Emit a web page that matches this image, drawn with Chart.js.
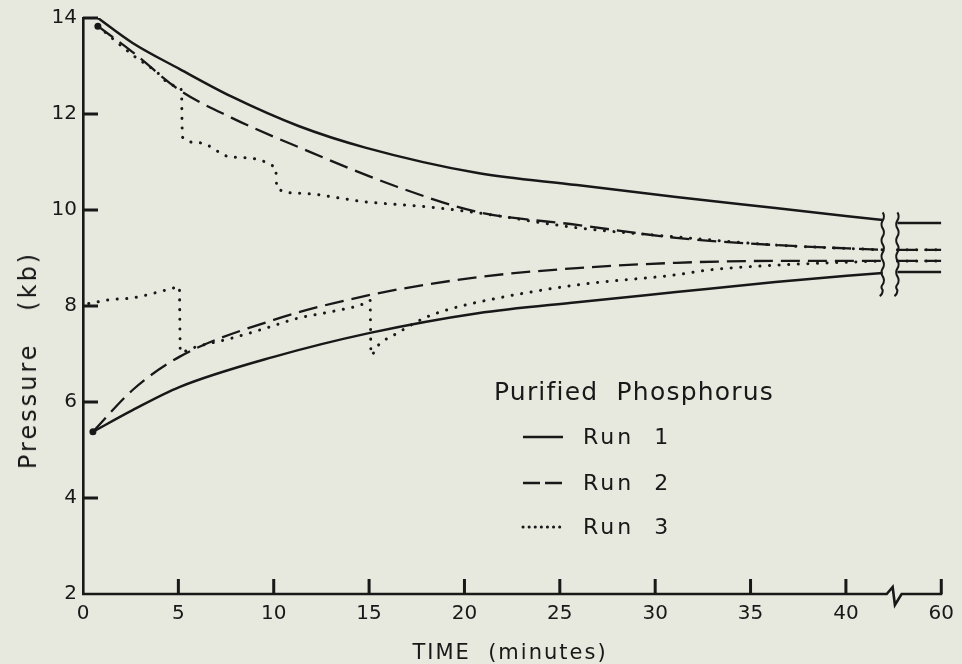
<!DOCTYPE html>
<html>
<head>
<meta charset="utf-8">
<script src="https://cdn.jsdelivr.net/npm/chart.js@4.4.0/dist/chart.umd.min.js"></script>
<style>
    html, body { margin: 0; padding: 0; background: #e7e8de; }
    #wrap { position: relative; width: 962px; height: 664px; overflow: hidden; font-family: "DejaVu Sans", sans-serif; color: #181818; }
    #wrap canvas { position: absolute; left: 0; top: 0; }
    #ytitle { position: absolute; left: 28px; top: 360px; transform: translate(-50%, -50%) rotate(-90deg); white-space: pre; font-size: 24px; letter-spacing: 3px; line-height: 28px; }
    #xtitle { position: absolute; left: 510px; top: 652px; transform: translate(-50%, -50%); white-space: pre; font-size: 21px; letter-spacing: 2px; line-height: 26px; }
    #legendTitle { position: absolute; left: 494px; top: 376px; font-size: 25px; letter-spacing: 1.2px; line-height: 32px; white-space: pre; }
    .legend-row { position: absolute; left: 520px; height: 28px; }
    .legend-row svg { position: absolute; left: 0; top: 0; }
    .legend-row span { position: absolute; left: 63px; top: 0; font-size: 22px; letter-spacing: 3px; line-height: 28px; white-space: pre; }
</style>
</head>
<body>
<div id="wrap">
    <canvas id="chart" width="962" height="664"></canvas>
    <div id="ytitle">Pressure   (kb)</div>
    <div id="xtitle">TIME  (minutes)</div>
    <div id="legendTitle">Purified  Phosphorus</div>
    <div id="legend"></div>
</div>
<script>
const ink = '#181818';

// tick values / labels (45 on the scale is drawn as "60" after the axis break)
const xTickValues = [0, 5, 10, 15, 20, 25, 30, 35, 40, 45];
const xTickLabels = ['0', '5', '10', '15', '20', '25', '30', '35', '40', '60'];
const yTickValues = [2, 4, 6, 8, 10, 12, 14];

const runNames = ['Run  1', 'Run  2', 'Run  3'];

// Run 1 (solid) - minutes / kb, null = gap at the axis break
const run1UpTime = [0.78, 2.6, 5.05, 7.8, 11.3, 14.8, 20.7, 25.9, 31.1, 36.3, 41.93, 42.3, 42.7, 45];
const run1UpP    = [14.0, 13.48, 12.94, 12.36, 11.75, 11.3, 10.77, 10.52, 10.27, 10.04, 9.79, null, 9.73, 9.73];
const run1LoTime = [0.52, 2.6, 5.05, 10, 15.05, 20.7, 25.9, 31.1, 36.3, 41.93, 42.3, 42.7, 45];
const run1LoP    = [5.38, 5.83, 6.31, 6.94, 7.44, 7.85, 8.08, 8.29, 8.5, 8.69, null, 8.71, 8.71];

// Run 2 (dashed)
const run2UpTime = [0.78, 2.6, 5.05, 7.8, 11.3, 16.5, 20.7, 25.9, 31.1, 36.3, 41.93, 42.3, 42.7, 45];
const run2UpP    = [13.83, 13.29, 12.5, 11.92, 11.31, 10.48, 9.96, 9.69, 9.42, 9.27, 9.17, null, 9.17, 9.17];
const run2LoTime = [0.52, 2.6, 5.05, 10, 15.05, 20.7, 25.9, 31.1, 36.3, 41.93, 42.3, 42.7, 45];
const run2LoP    = [5.38, 6.25, 6.94, 7.71, 8.23, 8.6, 8.79, 8.9, 8.94, 8.94, null, 8.94, 8.94];

// Run 3 (dotted) - has the sudden pressure steps
const run3UpTime = [0.78, 2.6, 3.85, 4.69, 5.16, 5.21, 6.1, 7.8, 10.1, 10.16, 11.3, 14.8, 18.2, 20.7, 25.9, 31.1, 36.3, 41.93, 42.3, 42.7, 45];
const run3UpP    = [13.83, 13.23, 12.88, 12.6, 12.5, 11.52, 11.4, 11.1, 10.88, 10.46, 10.35, 10.17, 10.06, 9.94, 9.63, 9.44, 9.27, 9.17, null, 9.17, 9.17];
const run3LoTime = [0.3, 1.4, 2.6, 4.53, 5.05, 5.1, 5.94, 7.8, 9.6, 11.3, 13.0, 14.8, 15.05, 15.1, 15.5, 16.5, 17.9, 19.1, 20.7, 25.9, 31.1, 32.8, 36.3, 41.93, 42.3, 42.7, 45];
const run3LoP    = [8.05, 8.13, 8.17, 8.35, 8.4, 7.04, 7.15, 7.33, 7.54, 7.75, 7.88, 8.06, 8.12, 6.98, 7.19, 7.44, 7.75, 7.92, 8.08, 8.44, 8.65, 8.75, 8.85, 8.94, null, 8.94, 8.94];

const styles = [
    { dash: [], width: 2.5, legendDash: '' },
    { dash: [19, 8], width: 2.3, legendDash: '17 5' },
    { dash: [0.1, 9.5], width: 3, legendDash: '0.1 6' }
];

function toPoints(times, values) {
    return times.map((t, i) => ({ x: t, y: values[i] }));
}

function makeDataset(run, times, values, startDot) {
    const st = styles[run];
    return {
        label: runNames[run],
        data: toPoints(times, values),
        borderColor: ink,
        backgroundColor: ink,
        borderWidth: st.width,
        borderDash: st.dash,
        borderCapStyle: run === 2 ? 'round' : 'butt',
        cubicInterpolationMode: 'monotone',
        spanGaps: false,
        fill: false,
        pointRadius: (c) => (startDot && c.dataIndex === 0 ? 3.5 : 0),
        pointBorderWidth: 0
    };
}

const axisDecor = {
    id: 'axisDecor',
    afterDraw(chart) {
        const ctx = chart.ctx;
        const area = chart.chartArea;
        const x = chart.scales.x;
        const y = chart.scales.y;
        const base = area.bottom;
        ctx.save();
        ctx.strokeStyle = ink;
        ctx.lineWidth = 2.6;
        ctx.lineJoin = 'miter';

        // x axis line with break zigzag
        ctx.beginPath();
        ctx.moveTo(area.left - 1, base);
        ctx.lineTo(x.getPixelForValue(42.14), base);
        ctx.lineTo(x.getPixelForValue(42.45), base - 7);
        ctx.lineTo(x.getPixelForValue(42.57), base + 11);
        ctx.lineTo(x.getPixelForValue(42.92), base);
        ctx.lineTo(area.right + 1, base);
        ctx.stroke();

        // inward ticks
        ctx.lineWidth = 3;
        ctx.beginPath();
        xTickValues.forEach(v => {
            if (v === 0) return;
            const px = x.getPixelForValue(v);
            ctx.moveTo(px, base);
            ctx.lineTo(px, base - 15);
        });
        yTickValues.forEach(v => {
            if (v === 2) return;
            const py = y.getPixelForValue(v);
            ctx.moveTo(area.left, py);
            ctx.lineTo(area.left + 15, py);
        });
        ctx.stroke();

        // wavy break marks across the curves
        ctx.lineWidth = 2;
        [41.93, 42.7].forEach(t => {
            const px = x.getPixelForValue(t);
            const top = y.getPixelForValue(9.95);
            const bot = y.getPixelForValue(8.33);
            ctx.beginPath();
            ctx.moveTo(px, top);
            let yy = top;
            let side = 1;
            while (yy < bot) {
                const next = Math.min(yy + 8, bot);
                ctx.quadraticCurveTo(px + 2.5 * side, (yy + next) / 2, px, next);
                side = -side;
                yy = next;
            }
            ctx.quadraticCurveTo(px, bot + 4, px - 3, bot + 6);
            ctx.stroke();
        });
        ctx.restore();
    }
};

Chart.defaults.font.family = "'DejaVu Sans', sans-serif";
Chart.defaults.color = ink;

new Chart(document.getElementById('chart'), {
    type: 'line',
    data: {
        datasets: [
            makeDataset(0, run1UpTime, run1UpP, false),
            makeDataset(0, run1LoTime, run1LoP, false),
            makeDataset(1, run2UpTime, run2UpP, true),
            makeDataset(1, run2LoTime, run2LoP, true),
            makeDataset(2, run3UpTime, run3UpP, false),
            makeDataset(2, run3LoTime, run3LoP, false)
        ]
    },
    options: {
        responsive: false,
        animation: false,
        layout: { padding: { top: 18, right: 15, left: 0, bottom: 0 } },
        plugins: {
            legend: { display: false },
            tooltip: { enabled: false }
        },
        scales: {
            x: {
                type: 'linear',
                min: 0,
                max: 45,
                grid: { display: false, drawTicks: false },
                border: { display: false },
                afterBuildTicks: (scale) => {
                    scale.ticks = xTickValues.map(v => ({ value: v }));
                },
                afterFit: (scale) => { scale.height = 70; },
                ticks: {
                    autoSkip: false,
                    maxRotation: 0,
                    padding: 8,
                    font: { size: 20 },
                    callback: (value) => xTickLabels[xTickValues.indexOf(value)]
                }
            },
            y: {
                min: 2,
                max: 14,
                grid: { display: false, drawTicks: false },
                border: { display: true, color: ink, width: 2.6 },
                afterBuildTicks: (scale) => {
                    scale.ticks = yTickValues.map(v => ({ value: v }));
                },
                afterFit: (scale) => { scale.width = 83; },
                ticks: {
                    padding: 6,
                    font: { size: 20 }
                }
            }
        }
    },
    plugins: [axisDecor]
});

// legend block: line samples + run names
const legend = document.getElementById('legend');
const rowCenters = [437, 483, 527];
runNames.forEach((name, i) => {
    const st = styles[i];
    const row = document.createElement('div');
    row.className = 'legend-row';
    row.style.top = (rowCenters[i] - 14) + 'px';
    row.innerHTML = '<svg width="46" height="28"><line x1="3" y1="14" x2="43" y2="14" stroke="' + ink +
        '" stroke-width="' + st.width + '"' + (st.legendDash ? ' stroke-dasharray="' + st.legendDash + '"' : '') +
        (i === 2 ? ' stroke-linecap="round"' : '') + '/></svg><span>' + name + '</span>';
    legend.appendChild(row);
});
</script>
</body>
</html>
